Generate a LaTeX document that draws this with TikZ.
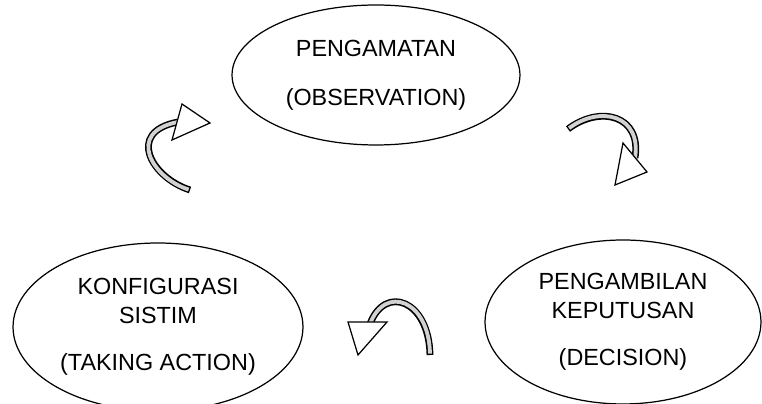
\documentclass[tikz,border=0pt]{standalone}
\usepackage{fontspec}
\setmainfont{Liberation Sans}
\usetikzlibrary{shapes.geometric}
\tikzset{
  phase/.style={ellipse, draw, line width=0.7pt, align=center, inner sep=0pt,
    font=\fontsize{13.3}{16}\selectfont},
  bandedge/.style={line width=3.9pt, line cap=butt},
  bandfill/.style={line width=2.2pt, draw=gray!35, line cap=butt, shorten <=0.8pt},
  headtip/.style={draw, fill=white, line width=0.7pt, line join=miter}
}

\begin{document}
\begin{tikzpicture}[x=0.02cm, y=-0.02cm]
        \useasboundingbox (0,0) rectangle (762,404);

        % the three phases
        \node[phase, minimum width=5.76cm, minimum height=2.8cm] (observe) at (376,75)
            {PENGAMATAN\\[12pt](OBSERVATION)};
        \node[phase, minimum width=5.52cm, minimum height=3.28cm] (decide) at (623,322)
            {PENGAMBILAN\\KEPUTUSAN\\[11pt](DECISION)};
        \node[phase, minimum width=5.8cm, minimum height=3.36cm] (act) at (158,327)
            {KONFIGURASI\\SISTIM\\[11pt](TAKING ACTION)};

        % observe -> decide
        \draw[bandedge] (568,129) .. controls (600,105) and (642,115) .. (635,158);
        \draw[bandfill] (568,129) .. controls (600,105) and (642,115) .. (635,158);
        \draw[headtip] (623,143) -- (647,172) -- (615,185) -- cycle;

        % decide -> act
        \draw[bandedge] (430,355) .. controls (429,300) and (385,284) .. (370,324);
        \draw[bandfill] (430,355) .. controls (429,300) and (385,284) .. (370,324);
        \draw[headtip] (348,322) -- (387,322) -- (358,355) -- cycle;

        % act -> observe
        \draw[bandedge] (190,190) .. controls (152,178) and (125,132) .. (178,122);
        \draw[bandfill] (190,190) .. controls (152,178) and (125,132) .. (178,122);
        \draw[headtip] (182,104) -- (210,123) -- (172,140) -- cycle;

    \end{tikzpicture}
\end{document}
